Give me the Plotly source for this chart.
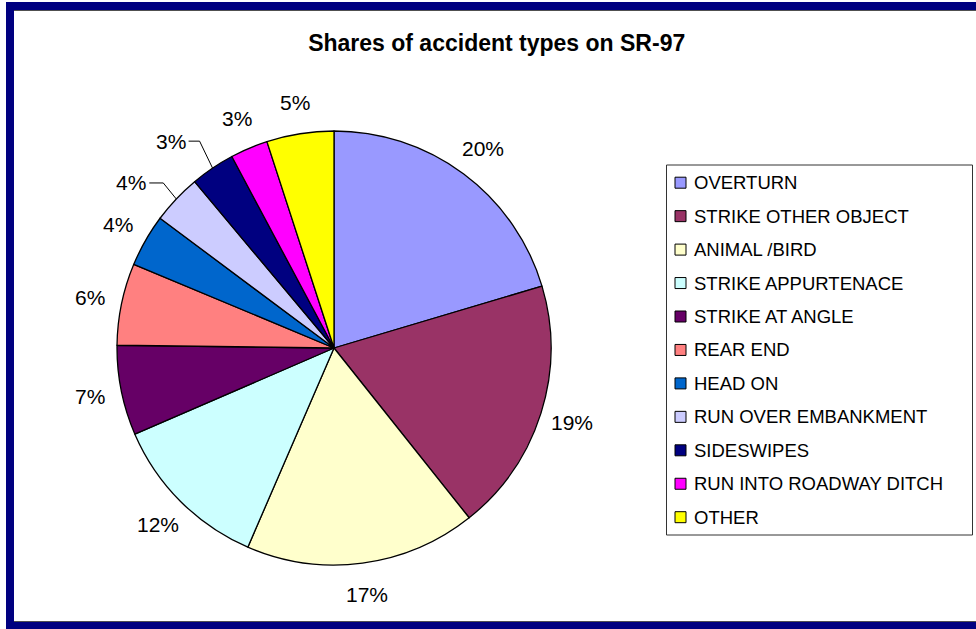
import math
import plotly.graph_objects as go

# ---------------- data ----------------
categories = [
    "OVERTURN",
    "STRIKE OTHER OBJECT",
    "ANIMAL /BIRD",
    "STRIKE APPURTENACE",
    "STRIKE AT ANGLE",
    "REAR END",
    "HEAD ON",
    "RUN OVER EMBANKMENT",
    "SIDESWIPES",
    "RUN INTO ROADWAY DITCH",
    "OTHER",
]
shares = [20.4, 18.9, 17.2, 12.0, 6.7, 6.1, 3.9, 3.7, 3.3, 2.8, 5.0]
colors = [
    "#9999FF", "#993366", "#FFFFCC", "#CCFFFF", "#660066", "#FF8080",
    "#0066CC", "#CCCCFF", "#000080", "#FF00FF", "#FFFF00",
]
title_text = "Shares of accident types on SR-97"

# ---------------- layout geometry (pixels) ----------------
W, H = 976, 629
CX, CY, R = 334, 348, 217
LABEL_R = 249
FONT = "Arial, 'Liberation Sans', sans-serif"
# labels moved by hand with leader lines (offset of text centre from slice edge)
leader_offsets = {7: (-45, -16), 8: (-42, -27)}


def fx(x):
    return x / W


def fy(y):
    return 1 - y / H


total = sum(shares)
fig = go.Figure()
fig.add_trace(go.Pie(
    labels=categories,
    values=shares,
    sort=False,
    direction="clockwise",
    rotation=0,
    marker=dict(colors=colors, line=dict(color="black", width=1.3)),
    textinfo="none",
    hoverinfo="label+percent",
    showlegend=False,
    domain=dict(x=[fx(CX - R), fx(CX + R)], y=[fy(CY + R), fy(CY - R)]),
))

annotations = []
shapes = []

# percentage labels
cum = 0.0
for i, v in enumerate(shares):
    mid = (cum + v / 2) / total * 2 * math.pi
    cum += v
    txt = f"{round(v / total * 100)}%"
    if i in leader_offsets:
        ex = CX + R * math.sin(mid)
        ey = CY - R * math.cos(mid)
        ox, oy = leader_offsets[i]
        tx, ty = ex + ox, ey + oy
        half = 16
        shapes.append(dict(
            type="path", xref="paper", yref="paper",
            path=f"M {fx(tx + half + 2)} {fy(ty)} L {fx(ex - 13)} {fy(ty)} L {fx(ex)} {fy(ey)}",
            line=dict(color="black", width=1),
        ))
    else:
        tx = CX + LABEL_R * math.sin(mid)
        ty = CY - LABEL_R * math.cos(mid)
    annotations.append(dict(
        x=fx(tx), y=fy(ty), xref="paper", yref="paper", text=txt,
        showarrow=False, xanchor="center", yanchor="middle",
        font=dict(family=FONT, size=21, color="black"),
    ))

# legend (drawn manually to match the Excel spacing)
LEG_X0, LEG_Y0, LEG_X1, LEG_Y1 = 666.5, 165, 972.5, 535
ITEM_Y0, ITEM_DY = 182.7, 33.45
shapes.append(dict(type="rect", xref="paper", yref="paper",
                   x0=fx(LEG_X0), x1=fx(LEG_X1), y0=fy(LEG_Y1), y1=fy(LEG_Y0),
                   line=dict(color="#333333", width=1), fillcolor="rgba(0,0,0,0)"))
for i, (name, col) in enumerate(zip(categories, colors)):
    yc = ITEM_Y0 + ITEM_DY * i
    shapes.append(dict(type="rect", xref="paper", yref="paper",
                       x0=fx(675), x1=fx(686), y0=fy(yc + 5.5), y1=fy(yc - 5.5),
                       line=dict(color="black", width=1), fillcolor=col))
    annotations.append(dict(
        x=fx(692), y=fy(yc), xref="paper", yref="paper", text=name,
        showarrow=False, xanchor="left", yanchor="middle",
        font=dict(family=FONT, size=18.5, color="black"),
    ))

# navy frame with thin shadow lines
NAVY = "#000080"
for (x0, y0, x1, y1) in [(6, 2, 14, 629), (6, 2, 990, 10), (6, 622, 990, 629)]:
    shapes.append(dict(type="rect", xref="paper", yref="paper",
                       x0=fx(x0), x1=fx(x1), y0=fy(y1), y1=fy(y0),
                       line=dict(width=0), fillcolor=NAVY))
for yy in (10.5, 621.5):
    shapes.append(dict(type="line", xref="paper", yref="paper",
                       x0=fx(14), x1=fx(990), y0=fy(yy), y1=fy(yy),
                       line=dict(color="#505050", width=1)))

fig.update_layout(
    width=W, height=H,
    margin=dict(l=0, r=0, t=0, b=0),
    paper_bgcolor="white",
    plot_bgcolor="white",
    title=dict(text=title_text, x=fx(496.7), xanchor="center", y=fy(43), yanchor="middle",
               font=dict(family=FONT, size=23, color="black", weight="bold")),
    annotations=annotations,
    shapes=shapes,
    showlegend=False,
)

fig.write_html(
    "out.html",
    config={"displayModeBar": False},
    post_script="document.body.style.margin='0';document.body.style.padding='0';",
)
